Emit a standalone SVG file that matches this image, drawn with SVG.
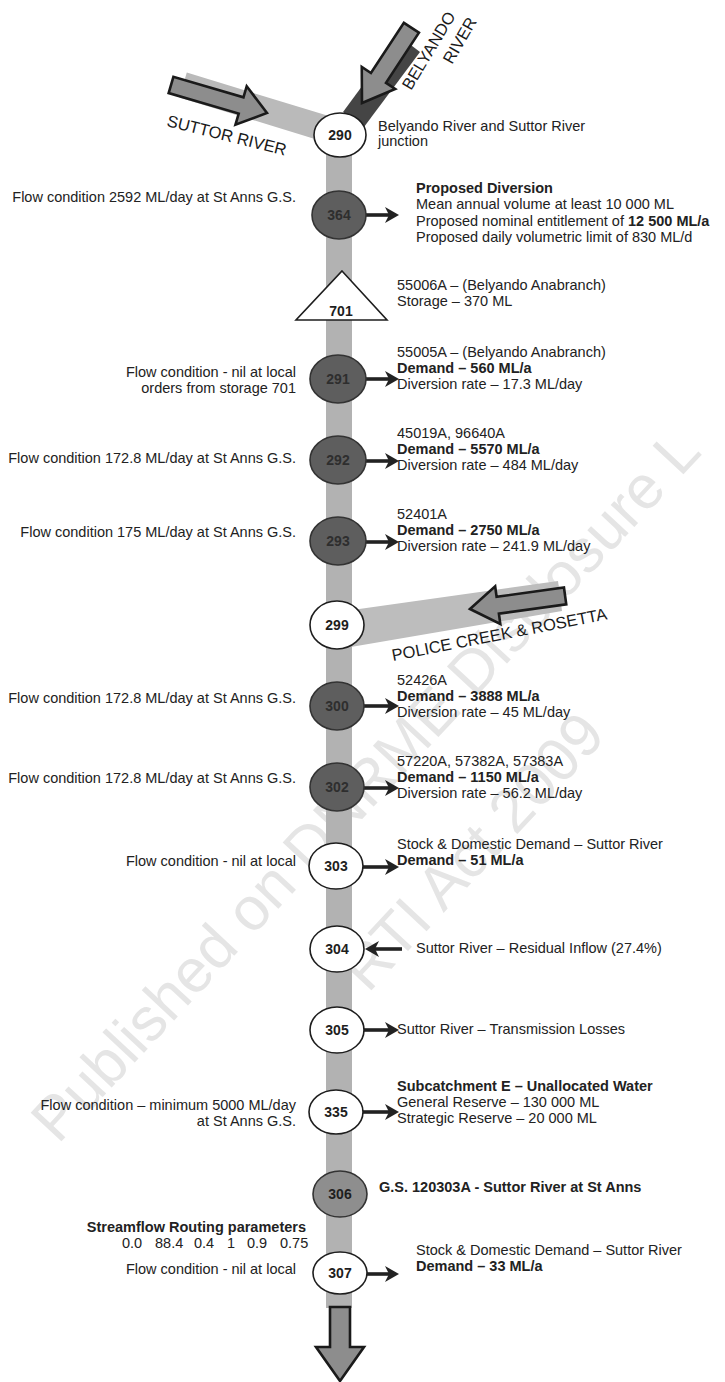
<svg xmlns="http://www.w3.org/2000/svg" width="725" height="1382" viewBox="0 0 725 1382">
<style>
text{font-family:"Liberation Sans",Arial,sans-serif;font-size:14.5px;fill:#222}
.l{text-anchor:end}
.b{font-weight:bold}
.wm{font-size:61px;fill:#e5e5e5}
.riv{font-size:16.5px;fill:#1a1a1a}
.nw{fill:#fff;stroke:#1e1e1e;stroke-width:1.6}
.nd{fill:#5e5e5e;stroke:#333;stroke-width:1.6}
.ng{fill:#8e8e8e;stroke:#333;stroke-width:1.6}
.nl{font-size:14px;font-weight:bold;text-anchor:middle;fill:#1e1e1e}
.nld{font-size:14px;font-weight:bold;text-anchor:middle;fill:#2e2e2e}
.big{fill:#8d8d8d;stroke:#1a1a1a;stroke-width:2.6;stroke-linejoin:miter}
.con{stroke:#222;stroke-width:3.6;fill:none;marker-end:url(#ah)}
</style>
<defs>
<marker id="ah" viewBox="0 0 14 16" refX="6" refY="8" markerWidth="14" markerHeight="16" markerUnits="userSpaceOnUse" orient="auto">
<path d="M0,0 L14,8 L0,16 L4,8 z" fill="#222"/>
</marker>
</defs>

<g id="watermark">
<text class="wm" x="58" y="1145" transform="rotate(-47 58 1145)">Published on DNRME Disclosure L</text>
<text class="wm" x="368" y="994" transform="rotate(-47 368 994)">RTI Act 2009</text>
</g>

<g id="connectors">
<rect x="326" y="140" width="26" height="1168" fill="#b2b2b2"/>
<polygon points="186.8,72.6 333.8,117.6 326.2,142.4 179.2,97.4" fill="#bababa"/>
<polygon points="343,112 364,127 420,52 399,36" fill="#454545"/>
<polygon points="345,611 558,581 562,611 345,648" fill="#bdbdbd"/>
<polygon class="big" transform="translate(267,113) rotate(16.3)" points="0,0 -27,-20 -27,-8.5 -100,-8.5 -100,8.5 -27,8.5 -27,20"/>
<polygon class="big" transform="translate(362,103) rotate(123.3)" points="0,0 -30,-20 -30,-9 -90,-9 -90,9 -30,9 -30,20"/>
<polygon class="big" transform="translate(470,609) rotate(172.2)" points="0,0 -28,-19 -28,-8.5 -96,-8.5 -96,8.5 -28,8.5 -28,19"/>
<polygon class="big" points="330,1307 350,1307 350,1347 364,1347 340,1381 316,1347 330,1347"/>
<path class="con" d="M366,215 H391"/>
<path class="con" d="M366,379 H391"/>
<path class="con" d="M366,461 H391"/>
<path class="con" d="M366,542 H391"/>
<path class="con" d="M364,706 H391"/>
<path class="con" d="M364,788 H391"/>
<path class="con" d="M363,867 H391"/>
<path class="con" d="M402,949 H373"/>
<path class="con" d="M364,1030 H391"/>
<path class="con" d="M363,1112 H391"/>
<path class="con" d="M367,1274 H391"/>
</g>

<g id="river-labels">
<text class="riv" x="166" y="126" transform="rotate(14 166 126)">SUTTOR RIVER</text>
<text class="riv" x="411" y="91" transform="rotate(-59 411 91)">BELYANDO</text>
<text class="riv" x="452" y="65" transform="rotate(-60 452 65)">RIVER</text>
<text class="riv" x="393" y="661" transform="rotate(-11 393 661)">POLICE CREEK &amp; ROSETTA</text>
</g>

<g id="n290">
<ellipse class="nw" cx="340" cy="135" rx="26" ry="22"/>
<text class="nl" x="340" y="140">290</text>
<text x="378" y="131">Belyando River and Suttor River</text>
<text x="378" y="146">junction</text>
</g>

<g id="n364">
<ellipse class="nd" cx="339" cy="215" rx="27" ry="24"/>
<text class="nld" x="339" y="220">364</text>
<text class="l" x="296" y="202">Flow condition 2592 ML/day at St Anns G.S.</text>
<text class="b" x="416" y="193">Proposed Diversion</text>
<text x="416" y="209">Mean annual volume at least 10 000 ML</text>
<text x="416" y="226">Proposed nominal entitlement of <tspan class="b">12 500 ML/a</tspan></text>
<text x="416" y="242">Proposed daily volumetric limit of 830 ML/d</text>
</g>

<g id="n701">
<polygon class="nw" points="342,271 387,320 296,320"/>
<text class="nl" x="341" y="316">701</text>
<text x="397" y="290">55006A – (Belyando Anabranch)</text>
<text x="397" y="306">Storage – 370 ML</text>
</g>

<g id="n291">
<ellipse class="nd" cx="338" cy="379" rx="28" ry="24"/>
<text class="nld" x="338" y="384">291</text>
<text class="l" x="296" y="377">Flow condition - nil at local</text>
<text class="l" x="296" y="393">orders from storage 701</text>
<text x="397" y="357">55005A – (Belyando Anabranch)</text>
<text class="b" x="397" y="373">Demand – 560 ML/a</text>
<text x="397" y="389">Diversion rate – 17.3 ML/day</text>
</g>

<g id="n292">
<ellipse class="nd" cx="338" cy="460" rx="28" ry="24"/>
<text class="nld" x="338" y="465">292</text>
<text class="l" x="296" y="463">Flow condition 172.8 ML/day at St Anns G.S.</text>
<text x="397" y="438">45019A, 96640A</text>
<text class="b" x="397" y="454">Demand – 5570 ML/a</text>
<text x="397" y="470">Diversion rate – 484 ML/day</text>
</g>

<g id="n293">
<ellipse class="nd" cx="338" cy="541" rx="28" ry="24"/>
<text class="nld" x="338" y="546">293</text>
<text class="l" x="296" y="537">Flow condition 175 ML/day at St Anns G.S.</text>
<text x="397" y="519">52401A</text>
<text class="b" x="397" y="535">Demand – 2750 ML/a</text>
<text x="397" y="551">Diversion rate – 241.9 ML/day</text>
</g>

<g id="n299">
<ellipse class="nw" cx="337" cy="625" rx="27" ry="24"/>
<text class="nl" x="337" y="630">299</text>
</g>

<g id="n300">
<ellipse class="nd" cx="337" cy="706" rx="27" ry="24"/>
<text class="nld" x="337" y="711">300</text>
<text class="l" x="296" y="703">Flow condition 172.8 ML/day at St Anns G.S.</text>
<text x="397" y="685">52426A</text>
<text class="b" x="397" y="701">Demand – 3888 ML/a</text>
<text x="397" y="717">Diversion rate – 45 ML/day</text>
</g>

<g id="n302">
<ellipse class="nd" cx="337" cy="787" rx="27" ry="24"/>
<text class="nld" x="337" y="792">302</text>
<text class="l" x="296" y="783">Flow condition 172.8 ML/day at St Anns G.S.</text>
<text x="397" y="766">57220A, 57382A, 57383A</text>
<text class="b" x="397" y="782">Demand – 1150 ML/a</text>
<text x="397" y="798">Diversion rate – 56.2 ML/day</text>
</g>

<g id="n303">
<ellipse class="nw" cx="336" cy="866" rx="27" ry="23"/>
<text class="nl" x="336" y="871">303</text>
<text class="l" x="296" y="866">Flow condition - nil at local</text>
<text x="397" y="849">Stock &amp; Domestic Demand – Suttor River</text>
<text class="b" x="397" y="865">Demand – 51 ML/a</text>
</g>

<g id="n304">
<ellipse class="nw" cx="337" cy="949" rx="27" ry="23"/>
<text class="nl" x="337" y="954">304</text>
<text x="416" y="953">Suttor River – Residual Inflow (27.4%)</text>
</g>

<g id="n305">
<ellipse class="nw" cx="337" cy="1030" rx="27" ry="23"/>
<text class="nl" x="337" y="1035">305</text>
<text x="397" y="1034">Suttor River – Transmission Losses</text>
</g>

<g id="n335">
<ellipse class="nw" cx="336" cy="1112" rx="27" ry="22"/>
<text class="nl" x="336" y="1117">335</text>
<text class="l" x="296" y="1110">Flow condition – minimum 5000 ML/day</text>
<text class="l" x="296" y="1126">at St Anns G.S.</text>
<text class="b" x="397" y="1091">Subcatchment E – Unallocated Water</text>
<text x="397" y="1107">General Reserve – 130 000 ML</text>
<text x="397" y="1123">Strategic Reserve – 20 000 ML</text>
</g>

<g id="n306">
<ellipse class="ng" cx="340" cy="1194" rx="27" ry="23"/>
<text class="nl" x="340" y="1199">306</text>
<text class="b" x="379" y="1192">G.S. 120303A - Suttor River at St Anns</text>
</g>

<g id="n307">
<ellipse class="nw" cx="340" cy="1273" rx="27" ry="21"/>
<text class="nl" x="340" y="1278">307</text>
<text class="l b" x="306" y="1232">Streamflow Routing parameters</text>
<text x="122" y="1248">0.0</text>
<text x="155" y="1248">88.4</text>
<text x="194" y="1248">0.4</text>
<text x="227" y="1248">1</text>
<text x="247" y="1248">0.9</text>
<text x="280" y="1248">0.75</text>
<text class="l" x="296" y="1274">Flow condition - nil at local</text>
<text x="416" y="1255">Stock &amp; Domestic Demand – Suttor River</text>
<text class="b" x="416" y="1271">Demand – 33 ML/a</text>
</g>
</svg>
